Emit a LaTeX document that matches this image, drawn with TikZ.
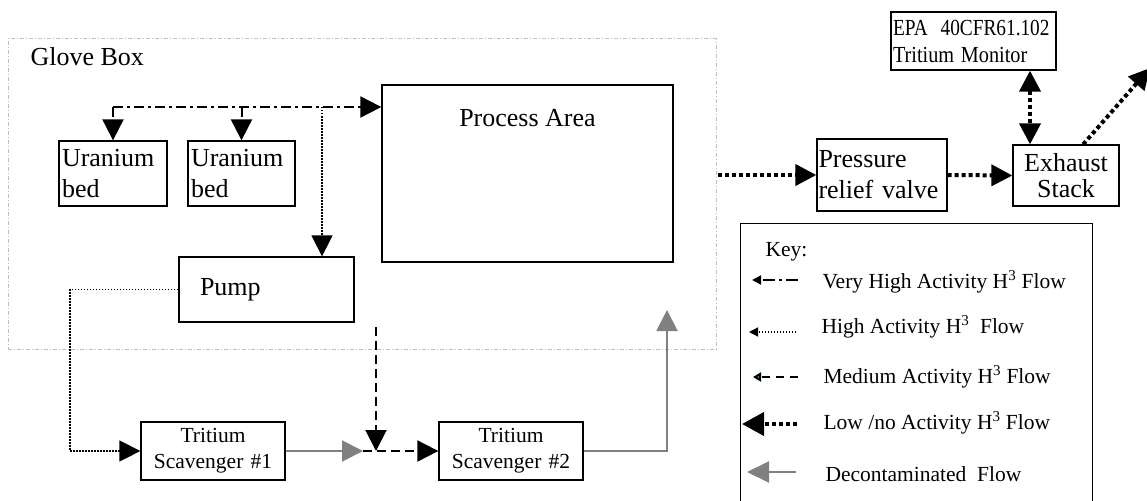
\documentclass[tikz,border=0pt]{standalone}
\usepackage{fontspec}
\usepackage{graphicx}
\setmainfont{Liberation Serif}
\usetikzlibrary{arrows.meta,calc}

\definecolor{glovegray}{RGB}{190,190,190}
\definecolor{decongray}{RGB}{128,128,128}
\definecolor{medgreen}{RGB}{40,200,40}

\tikzset{
  box/.style={draw, line width=1.3pt, inner ysep=0pt, inner xsep=3pt},
  big/.style={font=\fontsize{26}{31}\selectfont},
  small/.style={font=\fontsize{21.5}{26}\selectfont},
  gbox/.style={draw=glovegray, line width=1pt, dash pattern=on 4pt off 2pt on 1pt off 2pt},
  tip/.style={-{Triangle[length=21pt,width=21pt]}},
  bitip/.style={{Triangle[length=21pt,width=21pt]}-{Triangle[length=21pt,width=21pt]}},
  smalltip/.style={-{Triangle[length=9pt,width=9pt]}},
  vhigh/.style={line width=2pt, dash pattern=on 10pt off 4pt on 3pt off 4pt},
  high/.style={line width=1.5pt, dash pattern=on 1.5pt off 1.5pt},
  medium/.style={line width=2pt, dash pattern=on 9pt off 5pt},
  low/.style={line width=4pt, dash pattern=on 4pt off 3pt},
  decon/.style={line width=2pt, draw=decongray},
}

\begin{document}
\begin{tikzpicture}[x=1pt, y=-1pt]
\useasboundingbox (0,0) rectangle (1147,500);

% glove box enclosure
\node[gbox, minimum width=708pt, minimum height=310pt, inner sep=0pt] (glove) at (362,194) {};
\node[big, anchor=base west] (glovelbl) at (27,66) {Glove Box};

% equipment inside the glove box
\node[box, big, align=left, text width=102pt, minimum height=65pt] (ub1) at (113,173.5) {Uranium\\bed};
\node[box, big, align=left, text width=101pt, minimum height=65pt] (ub2) at (241.5,173.5) {Uranium\\bed};
\node[box, minimum width=291pt, minimum height=177pt] (proc) at (527.5,173.5) {};
\node[big, anchor=base] (proclbl) at (527.5,126) {Process Area};
\node[box, big, align=left, text width=133pt, inner xsep=21pt, minimum height=65pt] (pump) at (266.5,289.5) {Pump};

% scavengers
\node[box, small, align=center, text width=138pt, minimum height=58pt] (scav1) at (213,451) {Tritium\\Scavenger \#1};
\node[box, small, align=center, text width=138pt, minimum height=58pt] (scav2) at (511,451) {Tritium\\Scavenger \#2};

% exhaust path
\node[box, big, align=left, text width=127pt, inner xsep=1.5pt, minimum height=72pt] (prv) at (882,175) {Pressure\\relief valve};
\node[box, font=\fontsize{26}{26}\selectfont, align=center, text width=100pt, minimum height=61pt] (exh) at (1066,175.5) {Exhaust\\Stack};
\node[box, font=\fontsize{23}{27}\selectfont, align=left, text width=161pt, inner xsep=2pt, minimum height=58pt] (epa) at (973.5,41)
  {\scalebox{0.84}[1]{EPA\ \ 40CFR61.102}\\\scalebox{0.88}[1]{Tritium Monitor}};

% very high activity: uranium beds <-> process area
\coordinate (vh) at (113,107);
\draw[vhigh, tip] (vh) -- (proc.west |- vh);
\draw[vhigh, tip] (vh) -- (ub1.north);
\draw[vhigh, tip] (ub2.north |- vh) -- (ub2.north);

% high activity: to pump, then to scavenger #1
\coordinate (hv) at (322,107);
\draw[high, tip] (hv) -- (hv |- pump.north);
\draw[high, tip] (pump.west) -- (70,289.5) -- (70,451) -- (scav1.west);

% scavenger train
\coordinate (g) at (363,451);
\coordinate (md) at (376,327);
\draw[decon, tip] (scav1.east) -- (g);
\draw[medium, tip] (g) -- (scav2.west);
\draw[medium, tip] (md) -- (md |- scav2.west);
\coordinate (ret) at (667,310);
\draw[decon, tip] (scav2.east) -| (ret);

% low activity exhaust
\coordinate (lo) at (718,175);
\draw[low, tip] (lo) -- (prv.west);
\draw[low, tip] (prv.east) -- (exh.west);
\coordinate (mx) at (1030,0);
\draw[low, bitip] (mx |- epa.south) -- (mx |- exh.north);
\coordinate (sky) at (1150,68);
\draw[low, tip] ($(exh.north west)!0.66!(exh.north east)$) -- (sky);

% key
\node[box, minimum width=352pt, minimum height=300pt, anchor=north west] (key) at (740,223) {};
\node[small, anchor=base west] (keylbl) at (762,256) {Key:};

\coordinate (k1a) at (798,280); \coordinate (k1b) at (752,280);
\draw[line width=1.8pt, dash pattern=on 12pt off 4pt on 3pt off 4pt, smalltip] (k1a) -- (k1b);
\node[small, anchor=base west] (k1) at (819,288) {Very High Activity H\textsuperscript{3} Flow};

\coordinate (k2a) at (796,332); \coordinate (k2b) at (749,332);
\draw[line width=1.2pt, dash pattern=on 1.5pt off 1.5pt, smalltip] (k2a) -- (k2b);
\node[small, anchor=base west] (k2) at (818,333) {High Activity H\textsuperscript{3}\ \ Flow};

\coordinate (k3a) at (798,377); \coordinate (k3b) at (753,377);
\draw[line width=2pt, dash pattern=on 8pt off 6pt, -{Triangle[length=8pt,width=9pt,fill=medgreen]}] (k3a) -- (k3b);
\node[small, anchor=base west] (k3) at (820,383) {Medium Activity H\textsuperscript{3} Flow};

\coordinate (k4a) at (797,424); \coordinate (k4b) at (742,424);
\draw[low, -{Triangle[length=22pt,width=23pt]}] (k4a) -- (k4b);
\node[small, anchor=base west] (k4) at (820,429) {Low /no Activity H\textsuperscript{3} Flow};

\coordinate (k5a) at (796,472); \coordinate (k5b) at (747,472);
\draw[decon, -{Triangle[length=22pt,width=21pt]}] (k5a) -- (k5b);
\node[small, anchor=base west] (k5) at (822,481) {Decontaminated\ \ Flow};

\end{tikzpicture}
\end{document}
